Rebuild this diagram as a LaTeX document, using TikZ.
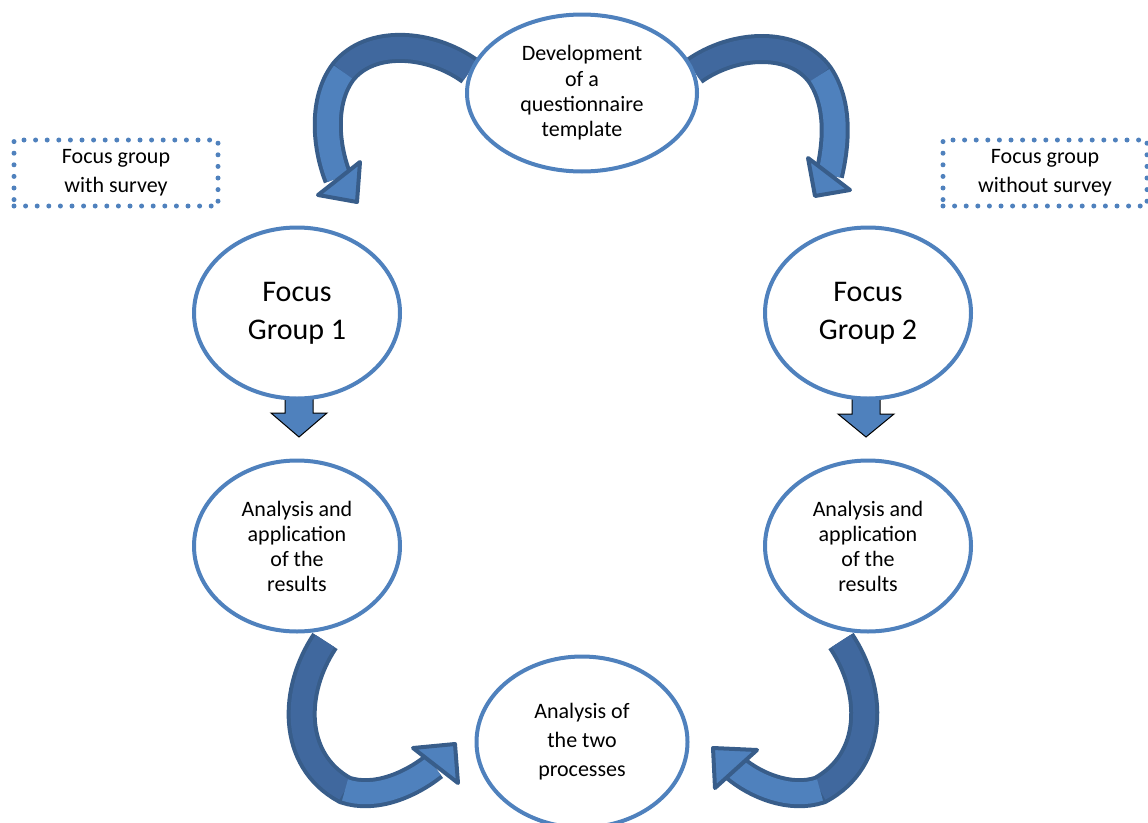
\documentclass[tikz,border=0pt]{standalone}
\usepackage{fontspec}
\setmainfont{Carlito}
\usetikzlibrary{shapes.geometric}
\definecolor{ringblue}{RGB}{79,129,189}
\definecolor{arrowlight}{RGB}{79,129,189}
\definecolor{arrowdark}{RGB}{64,104,158}
\definecolor{arrowedge}{RGB}{56,93,138}

\begin{document}
\begin{tikzpicture}[x=1pt,y=-1pt,
	ring/.style={ellipse, draw=ringblue, line width=4pt, fill=white, minimum width=206pt, minimum height=171pt, align=center, inner sep=0pt, font=\fontsize{22}{25}\selectfont},
	tag/.style={draw=ringblue, line width=5pt, line cap=round, dash pattern=on 0pt off 11.6pt, minimum width=204pt, minimum height=66pt, align=center, inner sep=0pt, font=\fontsize{22}{29}\selectfont},
	bendedge/.style={draw=arrowedge, line width=30pt},
	benddark/.style={draw=arrowdark, line width=22pt},
	bendlight/.style={draw=arrowlight, line width=22pt},
	bendhead/.style={draw=arrowedge, fill=arrowlight, line width=4pt, line join=round},
	droparrow/.style={draw=black, fill=arrowlight, line width=1pt}]

	\useasboundingbox (0,0) rectangle (1148,822);

	% end points of the curved arrows
	\coordinate (tlS) at (470,71);
	\coordinate (tlM) at (343,72);
	\coordinate (tlE) at (338,178);
	\coordinate (trS) at (694,71);
	\coordinate (trM) at (820,75);
	\coordinate (trE) at (829,175);
	\coordinate (blS) at (325,641);
	\coordinate (blM) at (345,790);
	\coordinate (blE) at (434,766);
	\coordinate (brS) at (841,641);
	\coordinate (brM) at (820,790);
	\coordinate (brE) at (735,768);

	% curved arrows, edge first
	\draw [bendedge] (tlS) .. controls (430,42) and (370,38) .. (tlM) .. controls (322,100) and (325,145) .. (tlE);
	\draw [bendedge] (trS) .. controls (735,42) and (795,40) .. (trM) .. controls (840,105) and (836,145) .. (trE);
	\draw [bendedge] (blS) .. controls (292,690) and (290,760) .. (blM) .. controls (375,800) and (410,785) .. (blE);
	\draw [bendedge] (brS) .. controls (874,690) and (876,760) .. (brM) .. controls (790,800) and (755,785) .. (brE);

	\draw [benddark] (tlS) .. controls (430,42) and (370,38) .. (tlM);
	\draw [bendlight] (tlM) .. controls (322,100) and (325,145) .. (tlE);
	\draw [benddark] (trS) .. controls (735,42) and (795,40) .. (trM);
	\draw [bendlight] (trM) .. controls (840,105) and (836,145) .. (trE);
	\draw [benddark] (blS) .. controls (292,690) and (290,760) .. (blM);
	\draw [bendlight] (blM) .. controls (375,800) and (410,785) .. (blE);
	\draw [benddark] (brS) .. controls (874,690) and (876,760) .. (brM);
	\draw [bendlight] (brM) .. controls (790,800) and (755,785) .. (brE);

	\draw [bendhead] (318,195) -- (357,202) -- (360,162) -- cycle;
	\draw [bendhead] (808,158) -- (815,196) -- (850,190) -- cycle;
	\draw [bendhead] (413,748) -- (455,744) -- (458,783) -- cycle;
	\draw [bendhead] (757,750) -- (713,748) -- (715,788) -- cycle;

	% down arrows
	\draw [droparrow] (285,390) -- (313,390) -- (313,413) -- (327,413) -- (299,437) -- (271,413) -- (285,413) -- cycle;
	\draw [droparrow] (852,390) -- (880,390) -- (880,414) -- (894,414) -- (866,437) -- (838,414) -- (852,414) -- cycle;

	% ellipses
	\node (dev) [ring, minimum width=230pt, minimum height=157pt, font=\fontsize{22}{25.4}\selectfont] at (582,93)
		{Development\\of a\\questionnaire\\template};
	\node (fg1) [ring, font=\fontsize{30}{38}\selectfont] at (297,313) {Focus\\Group 1};
	\node (fg2) [ring, font=\fontsize{30}{38}\selectfont] at (868,313) {Focus\\Group 2};
	\node (an1) [ring] at (297,546) {Analysis and\\application\\of the\\results};
	\node (an2) [ring] at (868,546) {Analysis and\\application\\of the\\results};
	\node (both) [ring, minimum width=211pt, font=\fontsize{22}{29}\selectfont] at (582,742)
		{Analysis of\\the two\\processes};

	% dotted labels
	\node (tag1) [tag] at (116,173) {Focus group\\with survey};
	\node (tag2) [tag] at (1045,173) {Focus group\\without survey};

\end{tikzpicture}
\end{document}
